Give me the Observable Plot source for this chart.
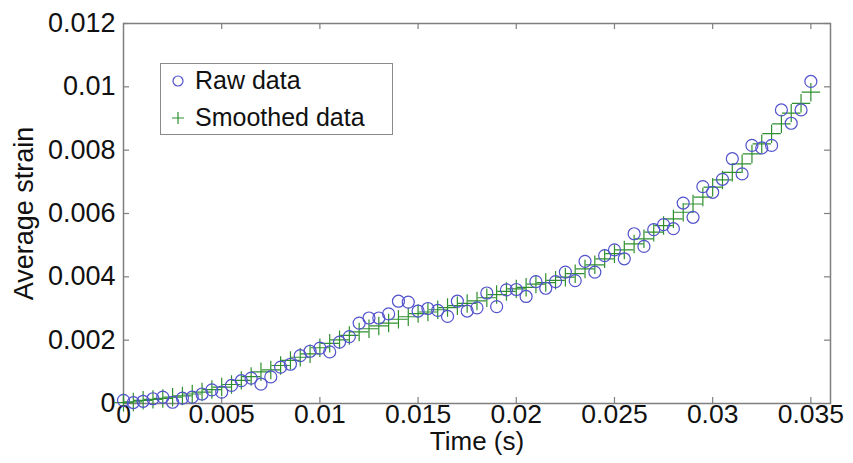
<!DOCTYPE html>
<html>
<head>
<meta charset="utf-8">
<script src="https://cdn.jsdelivr.net/npm/d3@7"></script>
<script src="https://cdn.jsdelivr.net/npm/@observablehq/plot@0.6"></script>
<style>
  html, body { margin: 0; padding: 0; background: #fff; }
  #wrap { position: relative; width: 853px; height: 463px; font-family: "Liberation Sans", Arial, sans-serif; }
  #legend { position: absolute; left: 160px; top: 63px; width: 233px; height: 72px; border: 1.5px solid #8a8a8a; background: #fff; box-sizing: border-box; }
  .lg { position: absolute; left: 9px; font-size: 25px; color: #111; display: flex; align-items: center; white-space: nowrap; }
  .lg svg { margin-right: 9px; }
</style>
</head>
<body>
<div id="wrap"><div id="chart"></div>
  <div id="legend">
    <div class="lg" style="top:2px"><svg width="16" height="16"><circle cx="8" cy="8" r="5" fill="none" stroke="#5252cc" stroke-width="1.2"/></svg>Raw data</div>
    <div class="lg" style="top:39px"><svg width="16" height="16"><path d="M2,8H14M8,2V14" stroke="#2f8f2f" stroke-width="1.2"/></svg>Smoothed data</div>
  </div>
</div>
<script>
const dt = 0.0005;
const rawStrain = [
  0.0001, 0.00003, 0.00007, 0.00015, 0.0002, 0.00004, 0.00017, 0.0002, 0.0003, 0.00043,
  0.00036, 0.00057, 0.00072, 0.0008, 0.00061, 0.00084, 0.00115, 0.00124, 0.00151, 0.00165,
  0.00175, 0.00163, 0.00194, 0.00211, 0.00254, 0.0027, 0.0027, 0.00283, 0.00323, 0.0032,
  0.00292, 0.003, 0.00294, 0.00275, 0.00323, 0.00292, 0.00302, 0.00349, 0.00306, 0.00359,
  0.0036, 0.00338, 0.00385, 0.00364, 0.00385, 0.00415, 0.00388, 0.00449, 0.00415, 0.00467,
  0.00485, 0.00457, 0.00536, 0.00496, 0.00549, 0.00565, 0.00552, 0.00633, 0.00588, 0.00685,
  0.00667, 0.00708, 0.00773, 0.00725, 0.00815, 0.00807, 0.00815, 0.00927, 0.00885, 0.00927,
  0.01017
];
const smoothStrain = [
  0.00003, 0.00005, 0.0001, 0.00013, 0.00016, 0.0002, 0.00024, 0.0003, 0.00036, 0.00044,
  0.00052, 0.0006, 0.00073, 0.00085, 0.001, 0.00106, 0.0012, 0.00136, 0.00146, 0.00157,
  0.00176, 0.0019, 0.00201, 0.00215, 0.00226, 0.00236, 0.00245, 0.00254, 0.00266, 0.00274,
  0.00284, 0.00289, 0.00296, 0.00303, 0.00309, 0.00316, 0.00324, 0.00334, 0.00344, 0.00354,
  0.00362, 0.00367, 0.00377, 0.00382, 0.00389, 0.00399, 0.0041, 0.00425, 0.00438, 0.00457,
  0.00473, 0.00485, 0.00504, 0.0052, 0.00541, 0.00562, 0.00583, 0.00604, 0.0063, 0.00652,
  0.00683, 0.00706, 0.0073, 0.00757, 0.00788, 0.0082, 0.00852, 0.00883, 0.00917, 0.00948,
  0.00983
];
const xTicks = [0, 0.005, 0.01, 0.015, 0.02, 0.025, 0.03, 0.035];
const yTicks = [0, 0.002, 0.004, 0.006, 0.008, 0.01, 0.012];
const xLabel = "Time (s)";
const yLabel = "Average strain";

const raw = rawStrain.map((v, i) => ({t: i * dt, v}));
const smooth = smoothStrain.map((v, i) => ({t: i * dt, v}));

const W = 853, H = 463;
const mL = 123, mR = 23, mT = 23, mB = 60;
const innerH = H - mT - mB, innerW = W - mL - mR;
const tl = 6;
const fmt = d => String(d);
const axisColor = "#7f7f7f";

const chart = Plot.plot({
  width: W, height: H,
  marginLeft: mL, marginRight: mR, marginTop: mT, marginBottom: mB,
  style: {fontFamily: "'Liberation Sans', Arial, sans-serif", background: "#fff", color: "#111"},
  x: {domain: [0, 0.036]},
  y: {domain: [0, 0.012]},
  marks: [
    Plot.frame({stroke: axisColor, strokeWidth: 1.5}),
    Plot.ruleX(xTicks, {x: d => d, insetTop: innerH - tl, stroke: axisColor, strokeWidth: 1.2}),
    Plot.ruleX(xTicks.slice(1), {x: d => d, insetBottom: innerH - tl, stroke: axisColor, strokeWidth: 1.2}),
    Plot.ruleY(yTicks, {y: d => d, insetRight: innerW - tl, stroke: axisColor, strokeWidth: 1.2}),
    Plot.ruleY(yTicks.slice(1), {y: d => d, insetLeft: innerW - tl, stroke: axisColor, strokeWidth: 1.2}),
    Plot.axisX(xTicks, {tickSize: 0, tickPadding: 1, tickFormat: fmt, fontSize: 26.5, label: null}),
    Plot.axisY(yTicks, {tickSize: 0, tickPadding: 8, tickFormat: fmt, fontSize: 27, label: null}),
    Plot.text([xLabel], {frameAnchor: "bottom", dy: 46, text: d => d, fontSize: 26, fill: "#111"}),
    Plot.text([yLabel], {frameAnchor: "left", textAnchor: "middle", dx: -99, rotate: -90, text: d => d, fontSize: 27, fill: "#111"}),
    Plot.dot(smooth, {x: "t", y: "v", symbol: "plus", r: 6, stroke: "#2f8f2f", strokeWidth: 1.2}),
    Plot.dot(raw, {x: "t", y: "v", symbol: "circle", r: 6, stroke: "#5252cc", strokeWidth: 1.2})
  ]
});
document.getElementById("chart").appendChild(chart);
</script>
</body>
</html>
